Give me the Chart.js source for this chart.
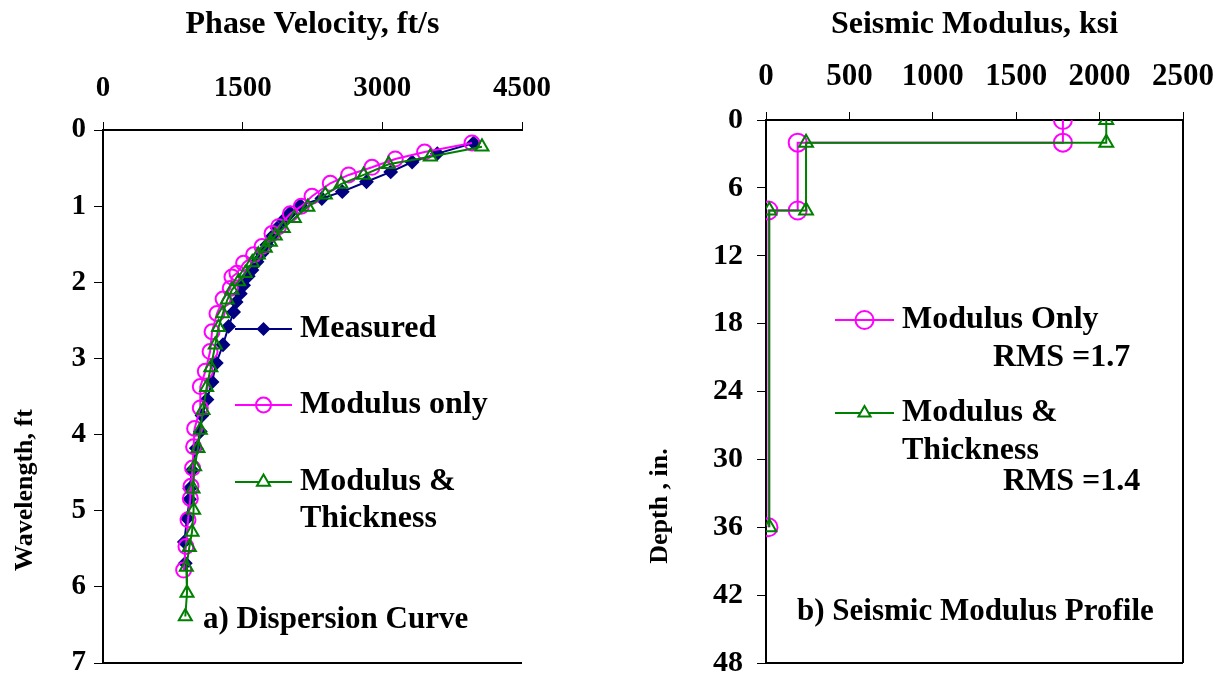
<!DOCTYPE html>
<html lang="en">
<head>
    <meta charset="UTF-8">
    <title>Dispersion Curve and Seismic Modulus Profile</title>
    <script src="https://cdn.jsdelivr.net/npm/chart.js"></script>
    <style>
        body { margin: 0; background: #fff; }
        .wrap { position: absolute; top: 0; }
        #left-wrap { left: 0; }
        #right-wrap { left: 600px; }
    </style>
</head>
<body>

<div class="wrap" id="left-wrap"><canvas id="dispersion" width="560" height="681"></canvas></div>
<div class="wrap" id="right-wrap"><canvas id="profile" width="625" height="681"></canvas></div>

<script>
    // a) Dispersion curve: phase velocity (ft/s) vs wavelength (ft)
    const measuredVel = [3980, 3590, 3320, 3090, 2830, 2570, 2350, 2120, 2010, 1940, 1870, 1815, 1760, 1708, 1654, 1600, 1560, 1510, 1475, 1430, 1403, 1349, 1289, 1217, 1171, 1117, 1063, 1045, 1002, 956, 930, 930, 902, 873, 884];
    const measuredWl  = [0.17, 0.31, 0.42, 0.55, 0.68, 0.81, 0.90, 0.99, 1.09, 1.18, 1.29, 1.40, 1.51, 1.62, 1.73, 1.84, 1.92, 2.04, 2.15, 2.26, 2.39, 2.58, 2.82, 3.06, 3.31, 3.54, 3.75, 3.96, 4.18, 4.47, 4.71, 4.85, 5.10, 5.41, 5.69];

    const modOnlyVel = [3963, 3454, 3139, 2889, 2638, 2441, 2245, 2130, 2012, 1886, 1815, 1708, 1617, 1510, 1439, 1385, 1367, 1290, 1224, 1171, 1150, 1099, 1045, 1045, 984, 973, 962, 945, 938, 913, 891, 866];
    const modOnlyWl  = [0.17, 0.29, 0.38, 0.49, 0.59, 0.70, 0.87, 1.00, 1.10, 1.27, 1.36, 1.53, 1.64, 1.75, 1.88, 1.93, 2.08, 2.22, 2.41, 2.65, 2.91, 3.17, 3.37, 3.65, 3.92, 4.16, 4.44, 4.68, 4.84, 5.12, 5.47, 5.78];

    const modThickVel = [4070, 3515, 3067, 2799, 2556, 2388, 2200, 2055, 1936, 1850, 1797, 1743, 1668, 1603, 1528, 1456, 1385, 1335, 1287, 1241, 1206, 1158, 1113, 1074, 1045, 1020, 984, 967, 973, 956, 927, 895, 902, 884];
    const modThickWl  = [0.22, 0.35, 0.45, 0.59, 0.71, 0.85, 1.01, 1.16, 1.29, 1.39, 1.47, 1.55, 1.64, 1.74, 1.88, 1.99, 2.10, 2.23, 2.41, 2.59, 2.82, 3.12, 3.38, 3.68, 3.94, 4.18, 4.42, 4.71, 4.99, 5.28, 5.48, 5.74, 6.08, 6.39];

    // b) Seismic modulus profile: modulus (ksi) vs depth (in.)
    const profOnlyMod   = [1780, 1780, 190, 190, 15, 15];
    const profOnlyDepth = [0, 2, 2, 8, 8, 36];
    const profThickMod   = [2040, 2040, 240, 240, 20, 20];
    const profThickDepth = [0, 2, 2, 8, 8, 36];

    const velTicks = [0, 1500, 3000, 4500];
    const wlTicks = [0, 1, 2, 3, 4, 5, 6, 7];
    const modTicks = [0, 500, 1000, 1500, 2000, 2500];
    const depthTicks = [0, 6, 12, 18, 24, 30, 36, 42, 48];

    const NAVY = '#000080';
    const MAGENTA = '#ff00ff';
    const GREEN = '#008000';
    const FONT = '"Liberation Serif", "Times New Roman", serif';

    Chart.defaults.font.family = FONT;
    Chart.defaults.color = '#000';

    function pairs(xs, ys) {
        return xs.map((x, i) => ({ x: x, y: ys[i] }));
    }

    function marker(ctx, style, x, y, r, color) {
        ctx.beginPath();
        if (style === 'circle') {
            ctx.arc(x, y, r, 0, Math.PI * 2);
            ctx.stroke();
        } else if (style === 'triangle') {
            ctx.moveTo(x, y - r);
            ctx.lineTo(x + r * 0.87, y + r * 0.5);
            ctx.lineTo(x - r * 0.87, y + r * 0.5);
            ctx.closePath();
            ctx.fillStyle = '#fff';
            ctx.fill();
            ctx.stroke();
        } else {
            ctx.moveTo(x, y - r);
            ctx.lineTo(x + r, y);
            ctx.lineTo(x, y + r);
            ctx.lineTo(x - r, y);
            ctx.closePath();
            ctx.fillStyle = color;
            ctx.fill();
        }
    }

    // draws box lines, legend entries and free text on top of the chart
    const overlay = {
        id: 'overlay',
        afterDraw(chart, args, opts) {
            const ctx = chart.ctx;
            const a = chart.chartArea;
            ctx.save();
            ctx.strokeStyle = '#000';
            ctx.lineWidth = 2;
            ctx.beginPath();
            ctx.moveTo(a.left, a.bottom);
            ctx.lineTo(a.right, a.bottom);
            if (opts.rightBorder) {
                ctx.moveTo(a.right, a.top);
                ctx.lineTo(a.right, a.bottom);
            }
            ctx.stroke();

            (opts.legend || []).forEach(item => {
                ctx.strokeStyle = item.color;
                ctx.lineWidth = 2;
                ctx.beginPath();
                ctx.moveTo(item.x1, item.y);
                ctx.lineTo(item.x2, item.y);
                ctx.stroke();
                marker(ctx, item.style, (item.x1 + item.x2) / 2, item.y, item.r, item.color);
            });

            ctx.fillStyle = '#000';
            ctx.textBaseline = 'middle';
            (opts.texts || []).forEach(t => {
                ctx.font = 'bold ' + t.size + 'px ' + FONT;
                ctx.save();
                ctx.translate(t.x, t.y);
                if (t.rot) ctx.rotate(-Math.PI / 2);
                ctx.textAlign = t.align || 'left';
                ctx.fillText(t.text, 0, 0);
                ctx.restore();
            });
            ctx.restore();
        }
    };

    function axisX(title, ticks, min, max, h, size) {
        return {
            type: 'linear', position: 'top', min: min, max: max,
            afterBuildTicks: s => { s.ticks = ticks.map(v => ({ value: v })); },
            afterFit: s => { s.height = h; s.paddingLeft = 0; s.paddingRight = 0; },
            ticks: { padding: 16, font: { size: size, weight: 'bold' }, color: '#000', callback: v => String(v) },
            grid: { drawOnChartArea: false, tickLength: 8, color: '#000', lineWidth: 1 },
            border: { display: true, color: '#000', width: 2 },
            title: { display: true, text: title, font: { size: 32, weight: 'bold' }, color: '#000', padding: { top: 6, bottom: 0 } }
        };
    }

    function axisY(ticks, min, max, w, pad, size) {
        return {
            type: 'linear', position: 'left', reverse: true, min: min, max: max,
            afterBuildTicks: s => { s.ticks = ticks.map(v => ({ value: v })); },
            afterFit: s => { s.width = w; s.paddingTop = 0; s.paddingBottom = 0; },
            ticks: { padding: pad, font: { size: size, weight: 'bold' }, color: '#000', callback: v => String(v) },
            grid: { drawOnChartArea: false, tickLength: 9, color: '#000', lineWidth: 1 },
            border: { display: true, color: '#000', width: 2 }
        };
    }

    function series(label, data, color, style, r, fill, order) {
        return {
            label: label, data: data, showLine: true,
            borderColor: color, borderWidth: 2,
            pointStyle: style, pointRadius: r, pointHoverRadius: r,
            pointBorderColor: color, pointBackgroundColor: fill, pointBorderWidth: 2,
            order: order
        };
    }

    new Chart(document.getElementById('dispersion'), {
        type: 'scatter',
        data: {
            datasets: [
                series('Measured', pairs(measuredVel, measuredWl), NAVY, 'rectRot', 6, NAVY, 3),
                series('Modulus only', pairs(modOnlyVel, modOnlyWl), MAGENTA, 'circle', 7.5, 'rgba(0,0,0,0)', 2),
                series('Modulus & Thickness', pairs(modThickVel, modThickWl), GREEN, 'triangle', 7.5, 'rgba(0,0,0,0)', 1)
            ]
        },
        options: {
            responsive: false,
            animation: false,
            devicePixelRatio: 1,
            layout: { padding: { left: 0, right: 38, top: 0, bottom: 18 } },
            plugins: {
                legend: { display: false },
                tooltip: { enabled: false },
                overlay: {
                    rightBorder: false,
                    legend: [
                        { x1: 235, x2: 292, y: 329, color: NAVY, style: 'diamond', r: 7 },
                        { x1: 235, x2: 292, y: 405, color: MAGENTA, style: 'circle', r: 7.5 },
                        { x1: 235, x2: 292, y: 482, color: GREEN, style: 'triangle', r: 7.5 }
                    ],
                    texts: [
                        { text: 'Measured', x: 300, y: 329, size: 32 },
                        { text: 'Modulus only', x: 300, y: 405, size: 32 },
                        { text: 'Modulus &', x: 300, y: 482, size: 32 },
                        { text: 'Thickness', x: 300, y: 519, size: 32 },
                        { text: 'a) Dispersion Curve', x: 203, y: 620, size: 31 },
                        { text: 'Wavelength, ft', x: 25, y: 490, size: 26, rot: true, align: 'center' }
                    ]
                }
            },
            scales: {
                x: axisX('Phase Velocity, ft/s', velTicks, 0, 4500, 130, 29),
                y: axisY(wlTicks, 0, 7, 103, 8, 29)
            }
        },
        plugins: [overlay]
    });

    new Chart(document.getElementById('profile'), {
        type: 'scatter',
        data: {
            datasets: [
                series('Modulus Only', pairs(profOnlyMod, profOnlyDepth), MAGENTA, 'circle', 9, 'rgba(0,0,0,0)', 2),
                series('Modulus & Thickness', pairs(profThickMod, profThickDepth), GREEN, 'triangle', 8, 'rgba(0,0,0,0)', 1)
            ]
        },
        options: {
            responsive: false,
            animation: false,
            devicePixelRatio: 1,
            layout: { padding: { left: 0, right: 42, top: 0, bottom: 18 } },
            plugins: {
                legend: { display: false },
                tooltip: { enabled: false },
                overlay: {
                    rightBorder: true,
                    legend: [
                        { x1: 235, x2: 294, y: 320, color: MAGENTA, style: 'circle', r: 9 },
                        { x1: 235, x2: 294, y: 413, color: GREEN, style: 'triangle', r: 7 }
                    ],
                    texts: [
                        { text: 'Modulus Only', x: 302, y: 320, size: 32 },
                        { text: 'RMS =1.7', x: 393, y: 358, size: 32 },
                        { text: 'Modulus &', x: 302, y: 413, size: 32 },
                        { text: 'Thickness', x: 302, y: 451, size: 32 },
                        { text: 'RMS =1.4', x: 403, y: 482, size: 32 },
                        { text: 'b) Seismic Modulus Profile', x: 197, y: 612, size: 31 },
                        { text: 'Depth , in.', x: 60, y: 506, size: 26, rot: true, align: 'center' }
                    ]
                }
            },
            scales: {
                x: axisX('Seismic Modulus, ksi', modTicks, 0, 2500, 120, 31),
                y: axisY(depthTicks, 0, 48, 166, 14, 30)
            }
        },
        plugins: [overlay]
    });
</script>

</body>
</html>
